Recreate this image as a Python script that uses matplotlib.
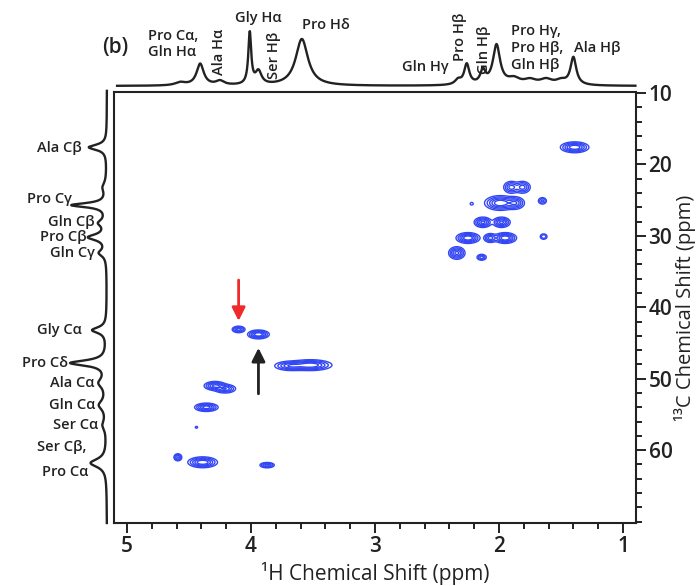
import numpy as np
import matplotlib
matplotlib.use("Agg")
import matplotlib.pyplot as plt
from matplotlib.ticker import MultipleLocator

plt.rcParams['font.family'] = ['Open Sans', 'DejaVu Sans']
plt.rcParams['font.weight'] = 'semibold'

# ---- 2D cross peaks: 1H shift (ppm), 13C shift (ppm), amplitude, widths ----
cp_h = [1.39, 1.90, 1.81, 1.99, 1.87, 2.22, 1.65, 2.13, 1.98, 2.25, 2.07, 1.95, 1.64,
        2.34, 2.14, 3.94, 4.10, 3.52, 3.68, 4.29, 4.21, 4.36, 4.44, 4.59, 4.39, 3.87]
cp_c = [17.6, 23.2, 23.2, 25.4, 25.4, 25.5, 25.1, 28.1, 28.1, 30.3, 30.3, 30.3, 30.1,
        32.4, 33.0, 43.8, 43.1, 48.1, 48.2, 51.0, 51.4, 54.0, 56.8, 61.0, 61.7, 62.1]
cp_amp = [1.0, 0.6, 0.6, 1.0, 0.7, 0.15, 0.35, 0.8, 0.8, 1.0, 0.6, 1.0, 0.3,
          0.8, 0.4, 1.0, 0.6, 1.0, 0.7, 0.8, 0.7, 0.9, 0.15, 0.5, 1.0, 0.6]
cp_wh = [0.050, 0.030, 0.030, 0.055, 0.035, 0.010, 0.018, 0.032, 0.032, 0.042, 0.025, 0.040, 0.016,
         0.030, 0.020, 0.038, 0.025, 0.075, 0.060, 0.040, 0.040, 0.042, 0.008, 0.016, 0.052, 0.028]
cp_wc = [0.33, 0.40, 0.40, 0.45, 0.40, 0.15, 0.25, 0.33, 0.33, 0.33, 0.30, 0.33, 0.22,
         0.40, 0.22, 0.27, 0.22, 0.33, 0.30, 0.28, 0.28, 0.26, 0.10, 0.25, 0.33, 0.18]

# ---- 1H projection (top) ----
h1_pos = [4.57, 4.41, 4.25, 4.01, 3.94, 3.59, 2.33, 2.26, 2.13, 2.02,
          1.88, 1.75, 1.62, 1.50, 1.40]
h1_amp = [0.05, 0.36, 0.07, 0.86, 0.22, 0.78, 0.08, 0.34, 0.22, 0.66,
          0.10, 0.08, 0.09, 0.07, 0.46]
h1_wid = [0.05, 0.035, 0.04, 0.014, 0.03, 0.06, 0.03, 0.025, 0.025, 0.035,
          0.06, 0.06, 0.06, 0.05, 0.028]

# ---- 13C projection (left) ----
c13_pos = [17.6, 23.2, 25.7, 28.2, 30.2, 32.4, 43.2, 47.8, 50.6, 53.7, 56.5, 61.8]
c13_amp = [0.30, 0.06, 0.58, 0.12, 0.30, 0.12, 0.24, 0.60, 0.12, 0.12, 0.06, 0.27]
c13_wid = [0.45, 0.8, 0.35, 0.55, 0.50, 0.55, 0.5, 0.45, 0.8, 0.8, 0.8, 0.7]

# ---- axes ----
h_ticks = [5, 4, 3, 2, 1]
c_ticks = [10, 20, 30, 40, 50, 60]

W, H = 700, 586
INK = '#222222'


def fx(p):
    return p / W


def fy(p):
    return 1 - p / H


fig = plt.figure(figsize=(W / 100, H / 100), dpi=100)

ax = fig.add_axes([fx(114), fy(523), (636 - 114) / W, (523 - 92) / H])
xlim = (5.105, 0.895)
ylim = (70.2, 9.86)

hh = np.linspace(xlim[1], xlim[0], 900)
cc = np.linspace(ylim[1], ylim[0], 700)
HH, CC = np.meshgrid(hh, cc)
Z = np.zeros_like(HH)
for h, c, a, wh, wc in zip(cp_h, cp_c, cp_amp, cp_wh, cp_wc):
    Z += a * np.exp(-0.5 * ((HH - h) / wh) ** 2 - 0.5 * ((CC - c) / wc) ** 2)

levels = [0.07, 0.16, 0.3, 0.48, 0.7]
ax.contour(HH, CC, Z, levels=levels, colors='#3347f4', linewidths=1.0)

ax.set_xlim(*xlim)
ax.set_ylim(*ylim)
ax.set_xticks(h_ticks)
ax.set_xticklabels([str(t) for t in h_ticks])
ax.xaxis.set_minor_locator(MultipleLocator(0.2))
ax.set_yticks(c_ticks)
ax.set_yticklabels([str(t) for t in c_ticks])
ax.yaxis.set_minor_locator(MultipleLocator(2))
ax.yaxis.tick_right()
ax.yaxis.set_label_position('right')
ax.tick_params(which='both', direction='out', width=1.4, color=INK, labelsize=15,
               labelcolor=INK)
ax.tick_params(which='major', length=7, pad=2)
ax.tick_params(which='minor', length=4)
ax.tick_params(axis='y', which='both', left=False, right=True)
for s in ax.spines.values():
    s.set_linewidth(1.5)
    s.set_color(INK)

ax.set_xlabel('¹H Chemical Shift (ppm)', fontsize=15, color=INK, labelpad=4)
ax.set_ylabel('¹³C Chemical Shift (ppm)', fontsize=14.5, color=INK, labelpad=1)

# arrows marking the glycine cross peaks
ax.annotate('', xy=(4.10, 42.3), xytext=(4.10, 35.8),
            arrowprops=dict(arrowstyle='-|>', color='#ee2a2a', lw=2, mutation_scale=20))
ax.annotate('', xy=(3.94, 45.3), xytext=(3.94, 52.5),
            arrowprops=dict(arrowstyle='-|>', color=INK, lw=2, mutation_scale=20))

# ---- top 1H projection ----
axt = fig.add_axes([fx(114), fy(86), (636 - 114) / W, 60 / H])
xs = np.linspace(5.08, 0.90, 2000)
spec_h = np.zeros_like(xs)
for p, a, w in zip(h1_pos, h1_amp, h1_wid):
    spec_h += a / (1 + ((xs - p) / w) ** 2)
axt.plot(xs, spec_h, color=INK, lw=1.7, clip_on=False)
axt.set_xlim(*xlim)
axt.set_ylim(0, 1)
axt.axis('off')

# ---- left 13C projection ----
axl = fig.add_axes([fx(47), fy(523), 60 / W, (523 - 92) / H])
ys = np.linspace(9.7, 70.2, 1500)
spec_c = np.zeros_like(ys)
for p, a, w in zip(c13_pos, c13_amp, c13_wid):
    spec_c += a / (1 + ((ys - p) / w) ** 2)
axl.plot(spec_c, ys, color=INK, lw=1.7, clip_on=False)
axl.set_ylim(*ylim)
axl.set_xlim(1, 0)
axl.axis('off')

# ---- assignment labels ----
lab_kw = dict(fontsize=10.5, color=INK)

fig.text(fx(115), fy(47), '(b)', fontsize=15, color=INK, ha='center', va='center')
fig.text(fx(148), fy(44), 'Pro Cα,\nGln Hα', ha='left', va='center', linespacing=1.2, **lab_kw)
fig.text(fx(219), fy(52), 'Ala Hα', ha='center', va='center', rotation=90, **lab_kw)
fig.text(fx(235), fy(18), 'Gly Hα', ha='left', va='center', **lab_kw)
fig.text(fx(274), fy(55), 'Ser Hβ', ha='center', va='center', rotation=90, **lab_kw)
fig.text(fx(302), fy(25), 'Pro Hδ', ha='left', va='center', **lab_kw)
fig.text(fx(402), fy(67), 'Gln Hγ', ha='left', va='center', **lab_kw)
fig.text(fx(460), fy(37), 'Pro Hβ', ha='center', va='center', rotation=90, **lab_kw)
fig.text(fx(484), fy(50), 'Gln Hβ', ha='center', va='center', rotation=90, **lab_kw)
fig.text(fx(511), fy(48), 'Pro Hγ,\nPro Hβ,\nGln Hβ', ha='left', va='center',
         linespacing=1.25, **lab_kw)
fig.text(fx(574), fy(48), 'Ala Hβ', ha='left', va='center', **lab_kw)

left_labels = [('Ala Cβ', 82, 148), ('Pro Cγ', 72, 199), ('Gln Cβ', 95, 222),
               ('Pro Cβ', 87, 237), ('Gln Cγ', 95, 253), ('Gly Cα', 82, 330),
               ('Pro Cδ', 68, 363), ('Ala Cα', 95, 383), ('Gln Cα', 95, 405),
               ('Ser Cα', 98, 425), ('Ser Cβ,', 86, 447), ('Pro Cα', 88, 472)]
for t, x, y in left_labels:
    fig.text(fx(x), fy(y), t, ha='right', va='center', **lab_kw)

fig.savefig('out.png', dpi=100)
